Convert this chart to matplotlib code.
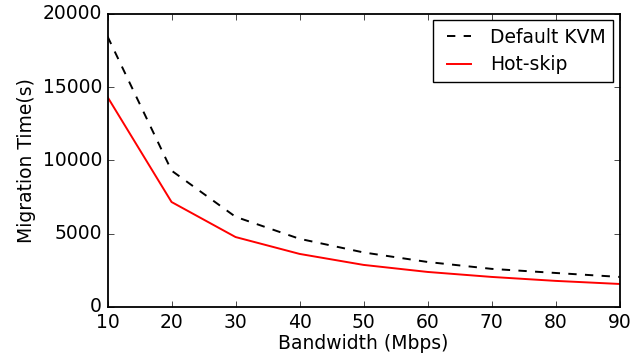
import matplotlib
matplotlib.use("Agg")
import matplotlib.pyplot as plt

bandwidth = [10, 20, 30, 40, 50, 60, 70, 80, 90]
default_kvm = [18450, 9300, 6150, 4650, 3720, 3070, 2600, 2320, 2050]
hot_skip = [14320, 7160, 4770, 3620, 2870, 2390, 2050, 1780, 1570]

plt.style.use('classic')
plt.rcParams['figure.facecolor'] = 'white'
plt.rcParams['savefig.facecolor'] = 'white'
plt.rcParams['font.size'] = 13.5
plt.rcParams['axes.linewidth'] = 1.3

fig, ax = plt.subplots(figsize=(6.44, 3.62), dpi=100)

ax.plot(bandwidth, default_kvm, 'k--', lw=1.4, label="Default KVM")
ax.plot(bandwidth, hot_skip, 'r-', lw=1.4, label="Hot-skip")

ax.set_xlim(10, 90)
ax.set_ylim(0, 20000)
ax.set_xlabel("Bandwidth (Mbps)", labelpad=2)
ax.set_ylabel("Migration Time(s)", labelpad=5)
ax.legend(loc='upper right', fontsize=13.5, handlelength=1.9, handletextpad=0.7,
          labelspacing=0.45, borderaxespad=0.35)

fig.subplots_adjust(left=0.167, right=0.962, top=0.962, bottom=0.152)
fig.savefig("out.png", dpi=100)
